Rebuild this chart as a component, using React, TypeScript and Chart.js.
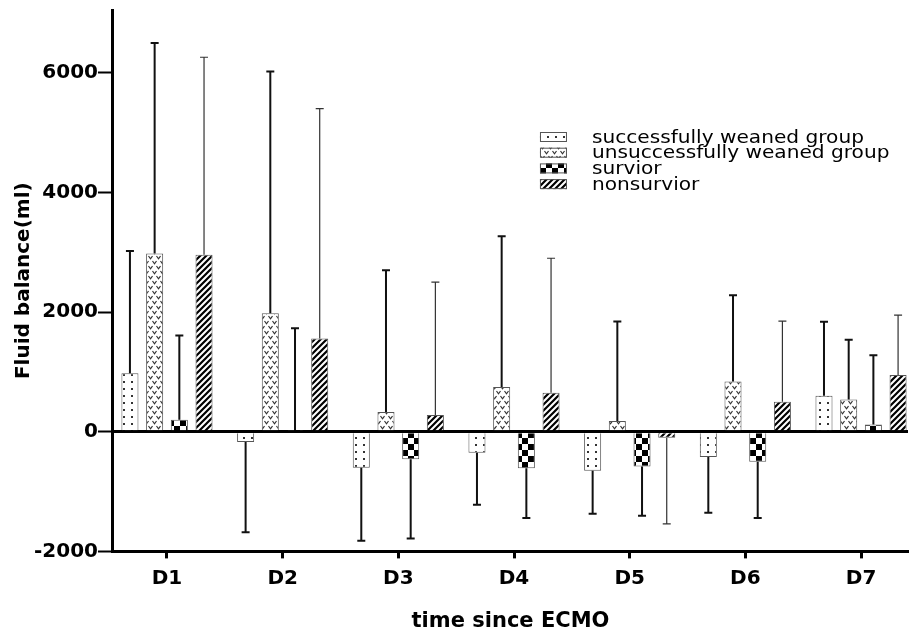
import React, { useEffect, useRef } from "react";
import { Chart, registerables } from "chart.js";

Chart.register(...registerables);

const days = ["D1", "D2", "D3", "D4", "D5", "D6", "D7"];
const seriesNames = [
  "successfully weaned group",
  "unsuccessfully weaned group",
  "survior",
  "nonsurvior",
];
const weanedMean = [980, -170, -600, -350, -650, -420, 600];
const weanedSD = [2040, 1510, 1220, 870, 720, 935, 1240];
const unweanedMean = [2980, 1980, 330, 750, 180, 840, 540];
const unweanedSD = [3520, 4040, 2370, 2520, 1665, 1440, 1000];
const survivorMean = [200, 30, -460, -610, -580, -500, 120];
const survivorSD = [1410, 1700, 1325, 830, 825, 940, 1160];
const nonsurvivorMean = [2960, 1560, 280, 650, -100, 500, 950];
const nonsurvivorSD = [3300, 3840, 2220, 2250, 1440, 1350, 1000];
const yTicks = [-2000, 0, 2000, 4000, 6000];

const FONT = "'DejaVu Sans', sans-serif";

function makePattern(kind: string): CanvasPattern {
  const c = document.createElement("canvas");
  const g = c.getContext("2d")!;
  if (kind === "dots") {
    c.width = 8; c.height = 7;
    g.fillStyle = "#fff"; g.fillRect(0, 0, 8, 7);
    g.fillStyle = "#333"; g.fillRect(3, 3, 2, 2);
  } else if (kind === "chevron") {
    c.width = 8; c.height = 10;
    g.fillStyle = "#fff"; g.fillRect(0, 0, 8, 10);
    g.strokeStyle = "#333"; g.lineWidth = 1.2;
    g.beginPath();
    g.moveTo(0.5, 1); g.lineTo(2.5, 3.8); g.lineTo(4.5, 1);
    g.moveTo(4.5, 6); g.lineTo(6.5, 8.8); g.lineTo(8.5, 6);
    g.moveTo(-3.5, 6); g.lineTo(-1.5, 8.8); g.lineTo(0.5, 6);
    g.stroke();
  } else if (kind === "checker") {
    c.width = 12; c.height = 12;
    g.fillStyle = "#fff"; g.fillRect(0, 0, 12, 12);
    g.fillStyle = "#000"; g.fillRect(0, 0, 6, 6); g.fillRect(6, 6, 6, 6);
  } else {
    c.width = 6; c.height = 6;
    g.fillStyle = "#fff"; g.fillRect(0, 0, 6, 6);
    g.strokeStyle = "#000"; g.lineWidth = 2.2;
    g.beginPath();
    g.moveTo(-1, 7); g.lineTo(7, -1);
    g.moveTo(-4, 4); g.lineTo(4, -4);
    g.moveTo(2, 10); g.lineTo(10, 2);
    g.stroke();
  }
  return g.createPattern(c, "repeat")!;
}

const errorBarPlugin = {
  id: "errorBars",
  afterDatasetsDraw(chart: any) {
    const ctx = chart.ctx;
    const yScale = chart.scales.y;
    chart.data.datasets.forEach((ds: any, i: number) => {
      const meta = chart.getDatasetMeta(i);
      meta.data.forEach((bar: any, j: number) => {
        const v = ds.data[j].y;
        const sd = ds.errors[j];
        const end = v >= 0 ? v + sd : v - sd;
        const yEnd = yScale.getPixelForValue(end);
        ctx.save();
        ctx.strokeStyle = ds.errorColor;
        ctx.lineWidth = ds.errorWidth;
        ctx.beginPath();
        ctx.moveTo(bar.x, bar.y);
        ctx.lineTo(bar.x, yEnd);
        ctx.moveTo(bar.x - 4, yEnd);
        ctx.lineTo(bar.x + 4, yEnd);
        ctx.stroke();
        ctx.restore();
      });
    });
  },
};

const legendPlugin = {
  id: "innerLegend",
  afterDraw(chart: any) {
    const ctx = chart.ctx;
    const area = chart.chartArea;
    const x0 = area.left + 427;
    const y0 = area.top + 127;
    const step = 15.7;
    ctx.save();
    chart.data.datasets.forEach((ds: any, i: number) => {
      const yc = y0 + i * step;
      ctx.fillStyle = ds.backgroundColor;
      ctx.fillRect(x0, yc - 5, 27, 10);
      ctx.strokeStyle = "#555";
      ctx.lineWidth = 1;
      ctx.strokeRect(x0 + 0.5, yc - 4.5, 26, 9);
      ctx.save();
      ctx.fillStyle = "#000";
      ctx.font = `18px ${FONT}`;
      ctx.textBaseline = "middle";
      ctx.textAlign = "left";
      ctx.translate(x0 + 52, yc + 1);
      ctx.scale(1.118, 1);
      ctx.fillText(ds.label, 0, 0);
      ctx.restore();
    });
    ctx.restore();
  },
};

export default function App() {
  const ref = useRef<HTMLCanvasElement>(null);
  useEffect(() => {
    if (!ref.current) return;
    const means = [weanedMean, unweanedMean, survivorMean, nonsurvivorMean];
    const sds = [weanedSD, unweanedSD, survivorSD, nonsurvivorSD];
    const kinds = ["dots", "chevron", "checker", "hatch"];
    const errWidths = [2, 2, 2, 1.2];
    const errColors = ["#111", "#111", "#111", "#333"];
    const datasets = seriesNames.map((name, k) => ({
      label: name,
      data: means[k].map((v, j) => ({ x: j + 1, y: v })),
      errors: sds[k],
      errorWidth: errWidths[k],
      errorColor: errColors[k],
      backgroundColor: makePattern(kinds[k]),
      borderColor: "#555",
      borderWidth: 1,
      categoryPercentage: 0.854,
      barPercentage: 0.69,
    }));
    const chart = new Chart(ref.current, {
      type: "bar",
      data: { datasets } as any,
      plugins: [errorBarPlugin, legendPlugin],
      options: {
        responsive: false,
        animation: false,
        devicePixelRatio: 1,
        layout: { padding: { top: 0, left: 0, right: 1, bottom: 0 } },
        plugins: { legend: { display: false }, tooltip: { enabled: false } },
        scales: {
          x: {
            type: "linear",
            offset: false,
            min: 0.533,
            max: 7.406,
            afterBuildTicks: (scale: any) => {
              scale.ticks = days.map((_, i) => ({ value: i + 1 }));
            },
            grid: {
              offset: false,
              drawOnChartArea: false,
              drawTicks: true,
              tickLength: 7,
              tickWidth: 3,
              tickColor: "#000",
            },
            border: { display: true, color: "#000", width: 3 },
            ticks: {
              autoSkip: false,
              maxRotation: 0,
              padding: 8,
              color: "#000",
              font: { family: FONT, size: 20, weight: "bold" },
              callback: (_v: any, i: number) => days[i],
            },
            title: {
              display: true,
              text: "time since ECMO",
              color: "#000",
              font: { family: FONT, size: 21, weight: "bold" },
              padding: { top: 11, bottom: 1.4 },
            },
          },
          y: {
            min: -2000,
            max: 7050,
            afterBuildTicks: (scale: any) => {
              scale.ticks = yTicks.map((v) => ({ value: v }));
            },
            grid: {
              drawOnChartArea: true,
              drawTicks: true,
              tickLength: 15,
              tickWidth: 2,
              tickColor: "#000",
              color: (c: any) => (c.tick && c.tick.value === 0 ? "#000" : "rgba(0,0,0,0)"),
              lineWidth: (c: any) => (c.tick && c.tick.value === 0 ? 3 : 1),
            },
            border: { display: true, color: "#000", width: 3 },
            ticks: {
              padding: 0,
              color: "#000",
              font: { family: FONT, size: 20, weight: "bold", lineHeight: 1 },
              callback: (v: any) => String(v),
            },
            title: {
              display: true,
              text: "Fluid balance(ml)",
              color: "#000",
              font: { family: FONT, size: 20, weight: "bold" },
              padding: { top: 12, bottom: -2 },
            },
          },
        },
      } as any,
    });
    return () => chart.destroy();
  }, []);
  return (
    <div style={{ position: "fixed", left: 0, top: 0, width: 909, height: 636, overflow: "hidden", background: "#fff" }}>
      <canvas ref={ref} width={909} height={636} style={{ display: "block" }} />
    </div>
  );
}
